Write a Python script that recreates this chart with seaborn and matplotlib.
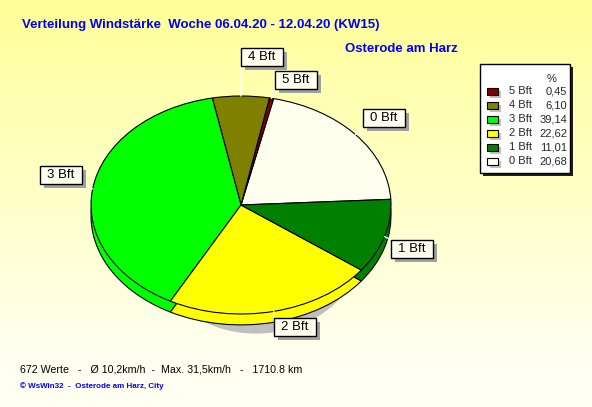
import numpy as np
import matplotlib
matplotlib.use('Agg')
import matplotlib.pyplot as plt
from matplotlib.patches import Rectangle, Ellipse
from matplotlib.lines import Line2D
import seaborn as sns

# Daten (Legende von oben nach unten)
stufen = ['5 Bft', '4 Bft', '3 Bft', '2 Bft', '1 Bft', '0 Bft']
anteile = [0.45, 6.10, 39.14, 22.62, 11.01, 20.68]
anteile_txt = ['0,45', '6,10', '39,14', '22,62', '11,01', '20,68']
farben = ['#800000', '#808000', '#00FF00', '#FFFF00', '#008000', '#FFFFF0']
# Reihenfolge der Segmente im Kreis (gegen den Uhrzeigersinn)
pie_reihenfolge = ['0 Bft', '5 Bft', '4 Bft', '3 Bft', '2 Bft', '1 Bft']

titel = 'Verteilung Windstärke  Woche 06.04.20 - 12.04.20 (KW15)'
ort = 'Osterode am Harz'
fusszeile = '672 Werte   -   Ø 10,2km/h  -  Max. 31,5km/h   -   1710.8 km'
copyright_txt = '© WsWin32  -  Osterode am Harz, City'

# Beschriftungsboxen (Mitte, in Pixel von oben links)
label_pos = {'4 Bft': (262, 57), '5 Bft': (296, 80), '0 Bft': (384, 118),
             '3 Bft': (61, 175), '1 Bft': (412, 249), '2 Bft': (295, 327)}

sns.set_theme(style='white')
plt.rcParams['font.family'] = ['Liberation Sans', 'DejaVu Sans']

W, H = 592, 407
fig = plt.figure(figsize=(W / 100, H / 100), dpi=100)

# Hintergrund mit Farbverlauf, Koordinaten = Pixel
bg = fig.add_axes([0, 0, 1, 1])
bg.set_xlim(0, W)
bg.set_ylim(H, 0)
bg.axis('off')
t = np.clip(np.linspace(0, 1, H) / 0.9, 0, 1)
img = np.ones((H, 2, 3))
img[:, :, 2] = (0.60 + 0.35 * t)[:, None]
bg.imshow(img, extent=[0, W, H, 0], aspect='auto', zorder=0)

# Kreisdiagramm (als Ellipse, mit Tiefe)
cx, cy, rx, ry, lim = 241, 205, 150, 109, 1.3
ax = fig.add_axes([(cx - rx * lim) / W, (H - cy - ry * lim) / H,
                   2 * rx * lim / W, 2 * ry * lim / H])
idx = [stufen.index(s) for s in pie_reihenfolge]
werte = [anteile[i] for i in idx]
cols = [farben[i] for i in idx]
tiefe = 0.1

ax.add_patch(Ellipse((0.1, -0.3), 1.45, 1.76, color='#C0C0C0', lw=0, zorder=0))
ax.pie(werte, colors=cols, startangle=3, center=(0, -tiefe),
       wedgeprops=dict(edgecolor='black', linewidth=0.8))
wedges, _ = ax.pie(werte, colors=cols, startangle=3,
                   wedgeprops=dict(edgecolor='black', linewidth=0.8))
ax.set_aspect('auto')
ax.set_xlim(-lim, lim)
ax.set_ylim(-lim, lim)
ax.axis('off')

# Beschriftungen mit Schatten und Hinweislinien
bw, bh = 42, 18
for w, name in zip(wedges, pie_reihenfolge):
    mid = np.deg2rad((w.theta1 + w.theta2) / 2)
    px = cx + rx * np.cos(mid)
    py = cy - ry * np.sin(mid)
    bx, by = label_pos[name]
    ex = np.clip(px, bx - bw / 2, bx + bw / 2)
    ey = np.clip(py, by - bh / 2, by + bh / 2)
    ax.add_artist(Line2D([px, ex], [py, ey], color='white', lw=1,
                         transform=bg.transData, clip_on=False, zorder=5))
    ax.add_artist(Rectangle((bx - bw / 2 + 4, by - bh / 2 + 4), bw, bh, fc='#A0A0A0',
                            lw=0, transform=bg.transData, clip_on=False, zorder=6))
    ax.add_artist(Rectangle((bx - bw / 2, by - bh / 2), bw, bh, fc='#FFFFF0', ec='black',
                            lw=1, transform=bg.transData, clip_on=False, zorder=7))
    ax.text(bx, by, name, ha='center', va='center', fontsize=9.5, color='black',
            transform=bg.transData, zorder=8)

# Legende
lx, ly, lw_, lh = 480, 64, 90, 109
bg.add_patch(Rectangle((lx + 3, ly + 3), lw_, lh, fc='#202020', lw=0, zorder=2))
bg.add_patch(Rectangle((lx, ly), lw_, lh, fc='white', ec='black', lw=1, zorder=3))
bg.text(552, 79, '%', ha='center', va='center', fontsize=8, zorder=4)
for i, (s, v, c) in enumerate(zip(stufen, anteile_txt, farben)):
    y = 91 + 14.1 * i
    bg.add_patch(Rectangle((490, y - 0.5), 11, 7, fc='#C0C0C0', lw=0, zorder=4))
    bg.add_patch(Rectangle((487, y - 3.5), 11, 7, fc=c, ec='black', lw=0.8, zorder=5))
    bg.text(509, y, s, ha='left', va='center', fontsize=8, zorder=5)
    bg.text(567, y, v, ha='right', va='center', fontsize=8, zorder=5)

# Texte
bg.text(22, 25, titel, ha='left', va='center', fontsize=9.5, fontweight='bold', color='#0000FF')
bg.text(345, 49, ort, ha='left', va='center', fontsize=9.5, fontweight='bold', color='#0000FF')
bg.text(20, 369, fusszeile, ha='left', va='center', fontsize=7.7, color='black')
bg.text(20, 386, copyright_txt, ha='left', va='center', fontsize=5.8, fontweight='bold',
        color='#0000FF')

fig.savefig('out.png', dpi=100)
